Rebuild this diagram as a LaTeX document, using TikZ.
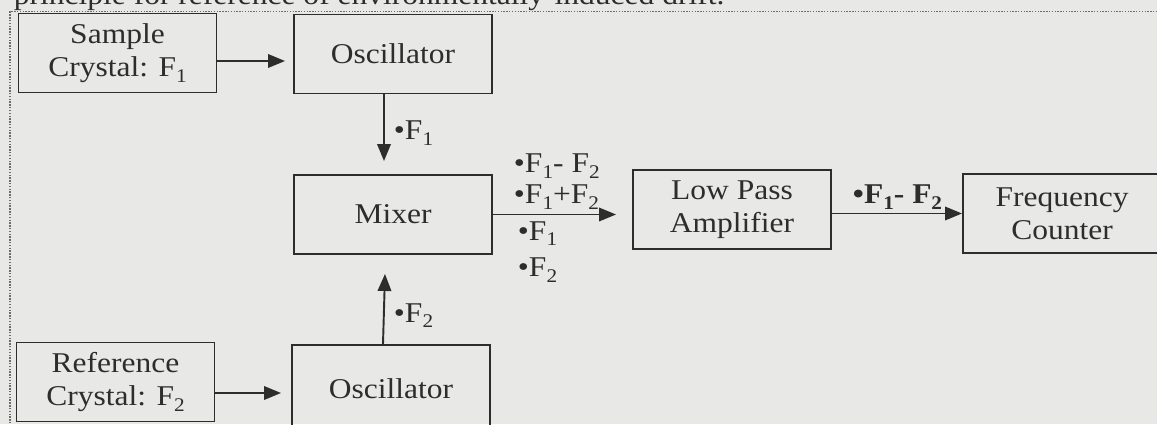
\documentclass[tikz,border=0pt]{standalone}
\usepackage{fontspec}
\setmainfont{Liberation Serif}[FakeStretch=1.1]
\usetikzlibrary{arrows.meta}
\definecolor{ink}{RGB}{45,45,45}
\definecolor{paper}{RGB}{232,232,230}
\newcommand{\lowidx}[1]{\raisebox{-0.45ex}{\fontsize{11}{11}\selectfont #1}}

\begin{document}
\begin{tikzpicture}[>={Triangle[length=0.34cm,width=0.27cm]}, line width=1.1pt, color=ink,
    font=\fontsize{16.3}{18.8}\selectfont,
    blockbox/.style={draw=ink, minimum width=3.96cm, minimum height=1.58cm, align=center, inner sep=0pt},
    tag/.style={anchor=base west, inner sep=0pt}]
    % page area
    \useasboundingbox (0,0) rectangle (23.14,8.48);
    \clip (0,0) rectangle (23.14,8.48);
    \fill[paper] (0,0) rectangle (23.14,8.48);
    % caption line above the frame
    \node[tag] (caption) at (0.26,8.39) {principle for reference of environmentally-induced drift.};
    % dotted frame
    \draw[ink!70, line width=0.6pt, dash pattern=on 0.8pt off 0.8pt] (0.2,-1) rectangle (24,8.25);

    % blocks
    \node[blockbox] (sample) at (2.35,7.42) {Sample\\Crystal: F\lowidx{1}};
    \node[blockbox] (osc1)   at (7.86,7.40) {Oscillator};
    \node[blockbox] (mixer)  at (7.86,4.19) {Mixer};
    \node[blockbox] (lp)     at (14.64,4.29) {Low Pass\\Amplifier};
    \node[blockbox] (fc)     at (21.24,4.21) {Frequency\\Counter};
    \node[blockbox] (refc)   at (2.31,0.84) {Reference\\Crystal: F\lowidx{2}};
    \node[blockbox, minimum height=1.74cm] (osc2) at (7.82,0.71) {Oscillator};

    % connectors
    \draw[->] ([yshift=-0.16cm]sample.east) -- ([xshift=-0.16cm,yshift=-0.16cm]sample.east -| osc1.west);
    \draw[->] ([xshift=-0.18cm]osc1.south) -- ([xshift=-0.18cm,yshift=0.26cm]mixer.north);
    \draw[->] ([xshift=-0.16cm]osc2.north) -- ([xshift=-0.16cm,yshift=-0.38cm]mixer.south);
    \draw[->] (mixer.east) -- ([xshift=-0.32cm]lp.west |- mixer.east);
    \draw[->] (lp.east |- fc.west) -- (fc.west);
    \draw[->] ([yshift=-0.22cm]refc.east) -- ([xshift=-0.2cm,yshift=-0.22cm]refc.east -| osc2.west);

    % signal labels
    \node[tag] (f1tag) at (7.86,5.68) {\textbullet F\lowidx{1}};
    \node[tag] (f2tag) at (7.86,2.04) {\textbullet F\lowidx{2}};
    \node[tag] (diff)  at (10.26,5.02) {\textbullet F\lowidx{1}- F\lowidx{2}};
    \node[tag] (sum)   at (10.26,4.40) {\textbullet F\lowidx{1}+F\lowidx{2}};
    \node[tag] (pass1) at (10.34,3.68) {\textbullet F\lowidx{1}};
    \node[tag] (pass2) at (10.34,2.94) {\textbullet F\lowidx{2}};
    \node[tag] (beat)  at (17.04,4.40) {\textbf{\textbullet F\lowidx{1}- F\lowidx{2}}};
\end{tikzpicture}
\end{document}
